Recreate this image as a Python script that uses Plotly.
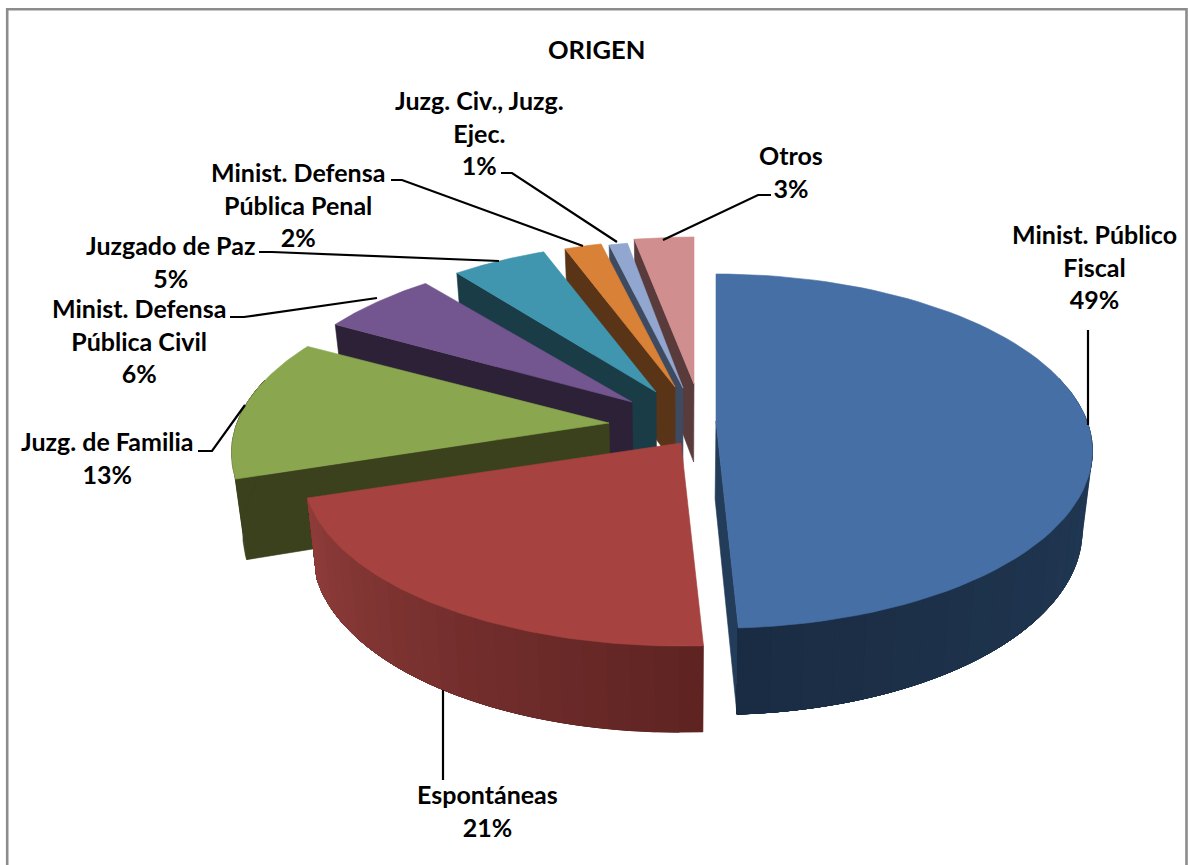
import numpy as np
import plotly.graph_objects as go

# ---- data ----
categories = ["Minist. Público<br>Fiscal", "Espontáneas", "Juzg. de Familia",
              "Minist. Defensa<br>Pública Civil", "Juzgado de Paz",
              "Minist. Defensa<br>Pública Penal", "Juzg. Civ., Juzg.<br>Ejec.", "Otros"]
values = [49.2, 20.8, 13.0, 6.0, 5.0, 2.0, 1.0, 3.0]
percent_labels = ["49%", "21%", "13%", "6%", "5%", "2%", "1%", "3%"]

# ---- styling ----
top_colors = ["#466fa6", "#a64340", "#8aa64e", "#73568f", "#4096af", "#d98136", "#92a7cf", "#d08e8e"]
wall_near = ["#233c5a", "#5e2322", "#3a411c", "#2c2136", "#1a3c47", "#5a3417", "#3e4a60", "#5a3b3c"]
wall_far = ["#1a2c43", "#8f3d3a", "#3a411c", "#2c2136", "#1a3c47", "#5a3417", "#3e4a60", "#5a3b3c"]
# exploded wedge tips, in page pixels, and per-wedge radius trims
tip_x = [716, 681, 609, 632, 656, 675, 683, 694]
tip_y = [421, 443, 423, 402, 392, 387, 388, 384]
rx_scale = [.997, 1, 1, .985, .95, .93, .93, 1]
ry_scale = [1, .98, 1, 1.012, 1.015, 1, 1, 1]
RX, RY, PERSP, DEPTH, DEPTH_P, X_VANISH, X_SHRINK = 372, 172, 0.17, 78, 0.105, 680, 0.975
label_x = [1094, 487, 107, 139, 170, 298, 479, 791]
label_y = [266, 810, 457, 340, 261, 204, 132, 171]
leaders = [
    "M1088,330 L1088,425", "M443,690 L443,780",
    "M198,451 L212,451 L245,405", "M230,317 L244,317 L377,298",
    "M259,252 L272,252 L499,261", "M391,180 L402,180 L583,246",
    "M501,173 L512,173 L617,242", "M771,195 L758,195 L663,240",
]
FONT = "Lato"
FS = 25


def top(i, th):
    z = -np.cos(th)
    s = 1 / (1 - PERSP * z)
    return tip_x[i] + RX * rx_scale[i] * s * np.sin(th), tip_y[i] + RY * ry_scale[i] * s * z


def bottom(i, x, y, th):
    z = -np.cos(th)
    return X_VANISH + (x - X_VANISH) * X_SHRINK, y + DEPTH * (1 + DEPTH_P * z)


def mix(c1, c2, t):
    a = [int(c1[j:j + 2], 16) for j in (1, 3, 5)]
    b = [int(c2[j:j + 2], 16) for j in (1, 3, 5)]
    return "rgb(%d,%d,%d)" % tuple(round(p + (q - p) * t) for p, q in zip(a, b))


def poly(xs, ys, color):
    return go.Scatter(x=list(xs), y=list(ys), mode="lines", fill="toself", fillcolor=color,
                      line=dict(color=color, width=0.6), hoverinfo="skip", showlegend=False)


edges = np.radians(np.concatenate([[0], np.cumsum(values)]) * 3.6)
fig = go.Figure()

for i in [7, 6, 5, 4, 3, 2, 0, 1]:
    t0, t1 = edges[i], edges[i + 1]
    # cut faces
    for th, show in ((t0, np.pi < t0), (t1, t1 < np.pi)):
        if show:
            x, y = top(i, th)
            bx, by = bottom(i, x, y, th)
            ax_, ay_ = bottom(i, tip_x[i], tip_y[i], np.pi / 2)
            fig.add_trace(poly([tip_x[i], x, bx, ax_, tip_x[i]], [tip_y[i], y, by, ay_, tip_y[i]], wall_near[i]))
    # outer wall, in shaded strips; each strip runs on under the next so no seams show
    lo, hi = max(t0, np.radians(75)), min(t1, np.radians(285))
    if hi > lo:
        n = 24 if i < 2 else 4
        grid = np.linspace(lo, hi, n + 1)
        for k in range(n):
            th = np.linspace(grid[k], hi, 40)
            x, y = top(i, th)
            bx, by = bottom(i, x, y, th)
            c = mix(wall_near[i], wall_far[i], (k + .5) / n)
            fig.add_trace(poly(np.r_[x, bx[::-1], x[0]], np.r_[y, by[::-1], y[0]], c))
    # top face
    th = np.linspace(t0, t1, 80)
    x, y = top(i, th)
    fig.add_trace(poly(np.r_[tip_x[i], x, tip_x[i]], np.r_[tip_y[i], y, tip_y[i]], top_colors[i]))

shapes = [dict(type="rect", xref="x", yref="y", x0=7.2, y0=9.3, x1=1186.5, y1=900,
               line=dict(color="#8c8c8c", width=2.6), fillcolor="rgba(0,0,0,0)", layer="below")]
for p in leaders:
    shapes.append(dict(type="path", xref="x", yref="y", path=p, line=dict(color="#000000", width=2.2)))

annotations = [dict(x=596, y=49, xref="x", yref="y", text="<b>ORIGEN</b>", showarrow=False,
                    font=dict(family=FONT, size=FS + 0.5, color="#000000"))]
for c, p, lx, ly in zip(categories, percent_labels, label_x, label_y):
    annotations.append(dict(x=lx, y=ly, xref="x", yref="y", text="<b>%s<br>%s</b>" % (c, p),
                            showarrow=False, align="center",
                            font=dict(family=FONT, size=FS, color="#000000")))

fig.update_layout(
    width=1188, height=865, margin=dict(l=0, r=0, t=0, b=0),
    paper_bgcolor="#ffffff", plot_bgcolor="#ffffff", showlegend=False,
    xaxis=dict(range=[0, 1188], visible=False, fixedrange=True),
    yaxis=dict(range=[865, 0], visible=False, fixedrange=True),
    shapes=shapes, annotations=annotations,
)
fig.write_html("out.html", post_script="document.body.style.margin='0';document.body.style.overflow='hidden';",
               config={"displayModeBar": False})
